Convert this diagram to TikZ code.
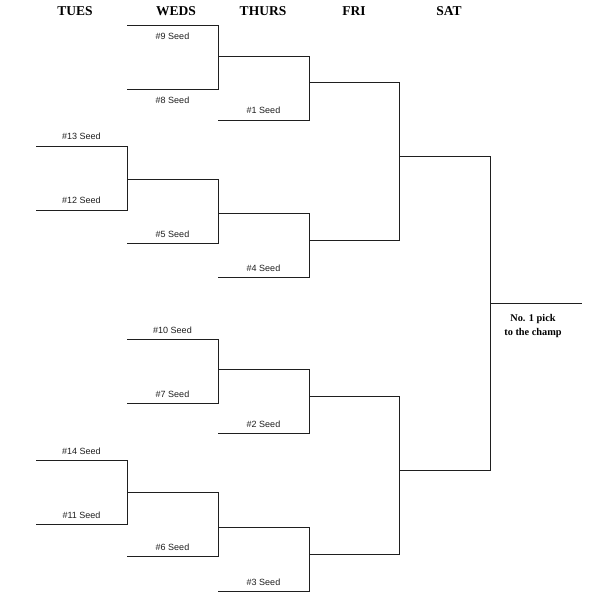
\documentclass[tikz,border=0pt]{standalone}
\usepackage{fontspec}
\setmainfont{Liberation Serif}
\setsansfont{Liberation Sans}
\begin{document}
\begin{tikzpicture}[
  x=1pt, y=-1pt,
  day/.style={font=\fontsize{13.5}{15}\selectfont\bfseries, anchor=base},
  seedup/.style={font=\sffamily\fontsize{9}{10}\selectfont,
    anchor=base, yshift=6pt, inner sep=0pt},
  seeddn/.style={font=\sffamily\fontsize{9}{10}\selectfont,
    anchor=base, yshift=-14.5pt, inner sep=0pt},
  pick/.style={font=\fontsize{10.3}{14}\selectfont\bfseries, align=center},
  bline/.style={line width=0.85pt, color=black!88}
]
  \useasboundingbox[fill=white] (0,0) rectangle (595,601);

  % Day headers
  \node[day] (tues)  at (75,16)  {TUES};
  \node[day] (weds)  at (176,16) {WEDS};
  \node[day] (thurs) at (263,16) {THURS};
  \node[day] (fri)   at (354,16) {FRI};
  \node[day] (sat)   at (449,16) {SAT};

  % Top quarter
  \coordinate (s9l) at (127,25);   \coordinate (s9r) at (218,25);
  \coordinate (s8l) at (127,89);   \coordinate (s8r) at (218,89);
  \coordinate (t1l) at (218,56);   \coordinate (t1r) at (309,56);
  \coordinate (s1l) at (218,120);  \coordinate (s1r) at (309,120);
  \coordinate (f1l) at (309,82);   \coordinate (f1r) at (399,82);
  \draw[bline] (s9l) -- node[seeddn] (n9) {\#9 Seed} (s9r)
    -- (s8r) -- node[seeddn] (n8) {\#8 Seed} (s8l);
  \draw[bline] (t1l) -- (t1r)
    -- (s1r) -- node[seedup] (n1) {\#1 Seed} (s1l);

  % Second quarter
  \coordinate (s13l) at (36,146);  \coordinate (s13r) at (127,146);
  \coordinate (s12l) at (36,210);  \coordinate (s12r) at (127,210);
  \coordinate (w13l) at (127,179); \coordinate (w13r) at (218,179);
  \coordinate (s5l) at (127,243);  \coordinate (s5r) at (218,243);
  \coordinate (t5l) at (218,213);  \coordinate (t5r) at (309,213);
  \coordinate (s4l) at (218,277);  \coordinate (s4r) at (309,277);
  \coordinate (f4l) at (309,240);  \coordinate (f4r) at (399,240);
  \draw[bline] (s13l) -- node[seedup] (n13) {\#13 Seed} (s13r)
    -- (s12r) -- node[seedup] (n12) {\#12 Seed} (s12l);
  \draw[bline] (w13l) -- (w13r)
    -- (s5r) -- node[seedup] (n5) {\#5 Seed} (s5l);
  \draw[bline] (t5l) -- (t5r)
    -- (s4r) -- node[seedup] (n4) {\#4 Seed} (s4l);

  % Third quarter
  \coordinate (s10l) at (127,339); \coordinate (s10r) at (218,339);
  \coordinate (s7l) at (127,403);  \coordinate (s7r) at (218,403);
  \coordinate (t2l) at (218,369);  \coordinate (t2r) at (309,369);
  \coordinate (s2l) at (218,433);  \coordinate (s2r) at (309,433);
  \coordinate (f2l) at (309,396);  \coordinate (f2r) at (399,396);
  \draw[bline] (s10l) -- node[seedup] (n10) {\#10 Seed} (s10r)
    -- (s7r) -- node[seedup] (n7) {\#7 Seed} (s7l);
  \draw[bline] (t2l) -- (t2r)
    -- (s2r) -- node[seedup] (n2) {\#2 Seed} (s2l);

  % Bottom quarter
  \coordinate (s14l) at (36,460);  \coordinate (s14r) at (127,460);
  \coordinate (s11l) at (36,524);  \coordinate (s11r) at (127,524);
  \coordinate (w14l) at (127,492); \coordinate (w14r) at (218,492);
  \coordinate (s6l) at (127,556);  \coordinate (s6r) at (218,556);
  \coordinate (t3l) at (218,527);  \coordinate (t3r) at (309,527);
  \coordinate (s3l) at (218,591);  \coordinate (s3r) at (309,591);
  \coordinate (f3l) at (309,554);  \coordinate (f3r) at (399,554);
  \draw[bline] (s14l) -- node[seedup] (n14) {\#14 Seed} (s14r)
    -- (s11r) -- node[seedup] (n11) {\#11 Seed} (s11l);
  \draw[bline] (w14l) -- (w14r)
    -- (s6r) -- node[seedup] (n6) {\#6 Seed} (s6l);
  \draw[bline] (t3l) -- (t3r)
    -- (s3r) -- node[seedup] (n3) {\#3 Seed} (s3l);

  % Fri and Sat
  \coordinate (sa1l) at (399,156); \coordinate (sa1r) at (490,156);
  \coordinate (sa2l) at (399,470); \coordinate (sa2r) at (490,470);
  \coordinate (chl) at (490,303);  \coordinate (chr) at (582,303);
  \draw[bline] (f1l) -- (f1r) -- (f4r) -- (f4l);
  \draw[bline] (f2l) -- (f2r) -- (f3r) -- (f3l);
  \draw[bline] (sa1l) -- (sa1r) -- (sa2r) -- (sa2l);
  \draw[bline] (chl) -- (chr);
  \node[pick] (champ) at (533,326) {No. 1 pick\\to the champ};
\end{tikzpicture}
\end{document}
